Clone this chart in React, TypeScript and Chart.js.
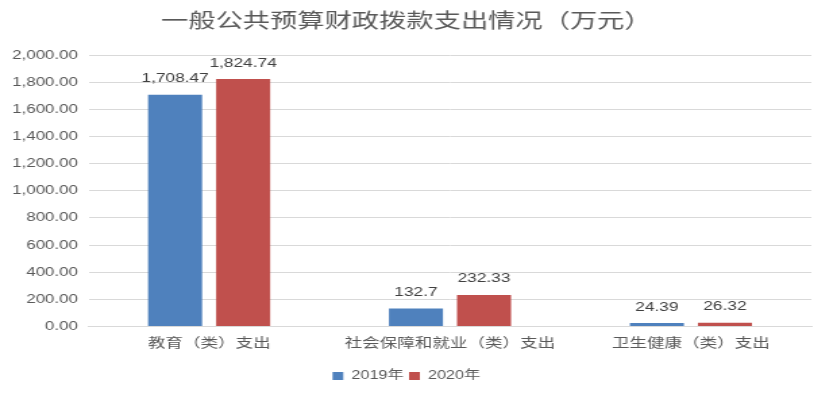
import React, { useEffect, useRef } from "react";
import { Chart, registerables } from "chart.js";

Chart.register(...registerables);

const categories = ["教育（类）支出", "社会保障和就业（类）支出", "卫生健康（类）支出"];
const series2019 = [1708.47, 132.7, 24.39];
const series2020 = [1824.74, 232.33, 26.32];
const labels2019 = ["1,708.47", "132.7", "24.39"];
const labels2020 = ["1,824.74", "232.33", "26.32"];
const seriesNames = ["2019年", "2020年"];
const titleText = "一般公共预算财政拨款支出情况（万元）";

const STRETCH = 1.35;
const BASE_W = Math.round(840 / STRETCH);

const FONT = "'Microsoft YaHei', 'Noto Sans CJK SC', 'Liberation Sans', sans-serif";
const NUMFONT = "'Liberation Sans', Arial, 'Noto Sans CJK SC', sans-serif";

const valueLabels = {
  id: "valueLabels",
  afterDatasetsDraw(chart: any) {
    const ctx = chart.ctx;
    const texts = [labels2019, labels2020];
    ctx.save();
    ctx.font = `12.8px ${NUMFONT}`;
    ctx.fillStyle = "#404040";
    ctx.textAlign = "center";
    ctx.textBaseline = "middle";
    chart.data.datasets.forEach((_: any, di: number) => {
      const meta = chart.getDatasetMeta(di);
      meta.data.forEach((el: any, i: number) => {
        ctx.fillText(texts[di][i], el.x, el.y - 16);
      });
    });
    ctx.restore();
  },
};

export default function App() {
  const ref = useRef<HTMLCanvasElement>(null);
  useEffect(() => {
    document.body.style.margin = "0";
    const chart = new Chart(ref.current!, {
      type: "bar",
      data: {
        labels: categories,
        datasets: [
          { label: seriesNames[0], data: series2019, backgroundColor: "#4F81BD" },
          { label: seriesNames[1], data: series2020, backgroundColor: "#C0504D" },
        ],
      },
      options: {
        animation: false,
        responsive: false,
        maintainAspectRatio: false,
        layout: { padding: { left: 1, right: 21, top: 0, bottom: 3 } },
        datasets: { bar: { categoryPercentage: 0.565, barPercentage: 0.794 } } as any,
        plugins: {
          title: {
            display: true,
            text: titleText,
            color: "#595959",
            font: { family: FONT, size: 20.2, weight: "normal" },
            padding: { top: 8, bottom: 23 },
          },
          legend: {
            position: "bottom",
            labels: {
              color: "#595959",
              font: { family: NUMFONT, size: 12 },
              boxWidth: 8,
              boxHeight: 8,
              padding: 4,
            },
          },
          tooltip: { enabled: false },
        },
        scales: {
          x: {
            grid: { display: false, drawTicks: false },
            border: { color: "#d9d9d9" },
            ticks: { color: "#595959", font: { family: FONT, size: 13 }, padding: 8 },
            afterFit: (scale: any) => {
              scale.height += 8;
            },
          },
          y: {
            min: 0,
            max: 2000,
            grid: { color: "#d9d9d9", drawTicks: false },
            border: { display: false },
            ticks: {
              stepSize: 200,
              color: "#595959",
              font: { family: NUMFONT, size: 12.5 },
              padding: 8,
              callback: (v: any) =>
                Number(v).toLocaleString("en-US", { minimumFractionDigits: 2, maximumFractionDigits: 2 }),
            },
          },
        },
      },
      plugins: [valueLabels],
    });
    return () => chart.destroy();
  }, []);
  return (
    <div style={{ width: 840, height: 395, overflow: "hidden" }}>
      <div style={{ width: BASE_W, height: 395, transform: `scaleX(${STRETCH})`, transformOrigin: "0 0" }}>
        <canvas ref={ref} width={BASE_W} height={395} />
      </div>
    </div>
  );
}
